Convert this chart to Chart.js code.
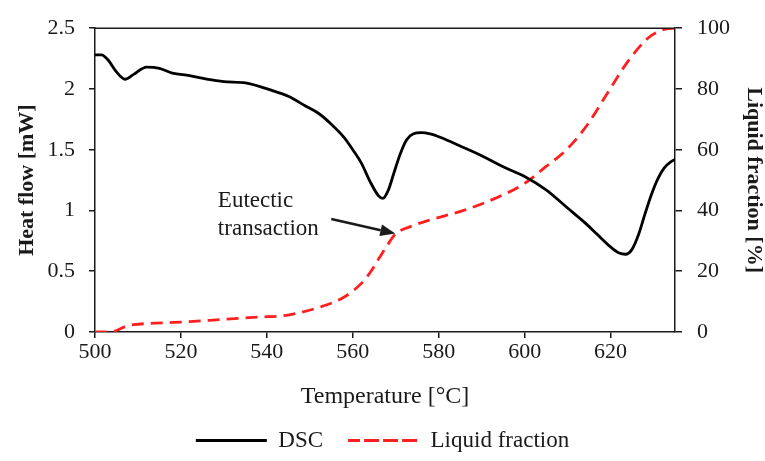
<!DOCTYPE html>
<html>
<head>
<meta charset="utf-8">
<script src="https://cdn.jsdelivr.net/npm/chart.js@4.4.1/dist/chart.umd.min.js"></script>
<style>
  html, body { margin: 0; padding: 0; background: #fff; }
  #wrap { width: 765px; height: 461px; }
</style>
</head>
<body>
<div id="wrap"><canvas id="chart"></canvas></div>
<script>
// temperature (°C) and DSC heat flow (mW)
var dscTemp = [500, 501.5, 503, 505, 507, 509, 512, 515, 518, 522, 526, 530, 535, 541, 545, 549, 552, 555, 558, 560, 562, 564, 566, 567, 568.3, 569.5, 571, 572.5, 574, 576, 578, 580.5, 585, 590, 595, 600, 605, 610, 614, 617, 620, 622, 623.5, 625, 626.5, 628, 629.5, 631, 632.5, 634, 635];
var dscFlow = [2.28, 2.28, 2.24, 2.14, 2.08, 2.12, 2.18, 2.17, 2.13, 2.11, 2.08, 2.06, 2.05, 1.99, 1.94, 1.86, 1.80, 1.71, 1.60, 1.50, 1.39, 1.24, 1.12, 1.10, 1.17, 1.30, 1.46, 1.58, 1.63, 1.64, 1.63, 1.60, 1.53, 1.45, 1.36, 1.28, 1.17, 1.02, 0.90, 0.80, 0.70, 0.65, 0.64, 0.68, 0.80, 0.97, 1.13, 1.26, 1.35, 1.40, 1.42];

// temperature (°C) and liquid fraction (%)
var lfTemp = [500, 503, 505, 507, 509, 514, 522, 530, 538, 544, 548, 553, 558, 562, 564, 566, 568, 570, 574, 578, 586, 593, 600, 605, 609, 612, 615, 619, 624, 628.6, 631, 633, 635];
var lfValue = [0, 0, 0.5, 1.8, 2.4, 2.9, 3.4, 4.2, 4.9, 5.4, 6.5, 8.5, 11.5, 16, 19.5, 24, 28.5, 32.3, 35, 36.9, 40.1, 43.9, 48.9, 54.5, 59, 63.5, 69, 78, 89, 96.6, 98.8, 99.8, 100];

var seriesNames = ["DSC", "Liquid fraction"];

// annotation: text anchor and arrow, in data units (°C, mW)
var noteLines = ["Eutectic", "transaction"];
var noteAt = { x: 528.6, y: [1.03, 0.80] };
var arrowFrom = { x: 555.0, y: 0.93 };
var arrowTo = { x: 569.9, y: 0.81 };

function pairs(xs, ys) {
  return xs.map(function (x, i) { return { x: x, y: ys[i] }; });
}

var serif = "'Liberation Serif', 'Times New Roman', serif";
var ink = "#1a1a1a";

var annotate = {
  id: "annotate",
  afterDatasetsDraw: function (chart) {
    var ctx = chart.ctx, a = chart.chartArea;
    var xs = chart.scales.x, ys = chart.scales.y;
    ctx.save();
    // top frame line
    ctx.strokeStyle = ink;
    ctx.lineWidth = 1.5;
    ctx.beginPath();
    ctx.moveTo(a.left, a.top);
    ctx.lineTo(a.right, a.top);
    ctx.stroke();

    ctx.fillStyle = ink;
    ctx.font = "23px " + serif;
    ctx.textAlign = "left";
    ctx.textBaseline = "alphabetic";
    noteLines.forEach(function (t, i) {
      ctx.fillText(t, xs.getPixelForValue(noteAt.x), ys.getPixelForValue(noteAt.y[i]));
    });

    var x0 = xs.getPixelForValue(arrowFrom.x), y0 = ys.getPixelForValue(arrowFrom.y);
    var x1 = xs.getPixelForValue(arrowTo.x), y1 = ys.getPixelForValue(arrowTo.y);
    var ang = Math.atan2(y1 - y0, x1 - x0), head = 15, half = 6;
    var bx = x1 - head * Math.cos(ang), by = y1 - head * Math.sin(ang);
    ctx.strokeStyle = ink;
    ctx.lineWidth = 2.5;
    ctx.beginPath();
    ctx.moveTo(x0, y0);
    ctx.lineTo(bx, by);
    ctx.stroke();
    ctx.beginPath();
    ctx.moveTo(x1, y1);
    ctx.lineTo(bx + half * Math.sin(ang), by - half * Math.cos(ang));
    ctx.lineTo(bx - half * Math.sin(ang), by + half * Math.cos(ang));
    ctx.closePath();
    ctx.fill();
    ctx.restore();
  }
};

Chart.defaults.font.family = serif;
Chart.defaults.color = ink;

function plain(v) { return String(Number(v.toFixed(2))); }

new Chart(document.getElementById("chart"), {
  type: "line",
  data: {
    datasets: [
      {
        label: seriesNames[0],
        data: pairs(dscTemp, dscFlow),
        yAxisID: "y",
        borderColor: "#000",
        backgroundColor: "rgba(0,0,0,0)",
        borderWidth: 2.8,
        pointRadius: 0,
        cubicInterpolationMode: "monotone"
      },
      {
        label: seriesNames[1],
        data: pairs(lfTemp, lfValue),
        yAxisID: "y1",
        borderColor: "#ff1f1f",
        backgroundColor: "rgba(0,0,0,0)",
        borderWidth: 2.8,
        borderDash: [12, 7],
        pointRadius: 0,
        cubicInterpolationMode: "monotone"
      }
    ]
  },
  options: {
    responsive: true,
    maintainAspectRatio: false,
    animation: false,
    layout: { padding: { top: 23, left: 0, right: 0, bottom: 0 } },
    plugins: {
      tooltip: { enabled: false },
      legend: {
        position: "bottom",
        maxHeight: 57,
        labels: {
          boxWidth: 71,
          boxHeight: 0,
          padding: 25,
          color: ink,
          font: { size: 23 }
        }
      }
    },
    scales: {
      x: {
        type: "linear",
        min: 500,
        max: 635,
        afterFit: function (s) { s.height = 72; },
        border: { display: true, color: ink, width: 1.5 },
        grid: { drawOnChartArea: false, drawTicks: true, tickLength: 6, color: ink, lineWidth: 1.5 },
        ticks: { stepSize: 20, includeBounds: false, padding: 1, font: { size: 22 }, color: ink },
        title: { display: true, text: "Temperature [°C]", font: { size: 24, lineHeight: 1 }, color: ink, padding: { top: 0, bottom: -5 } }
      },
      y: {
        position: "left",
        min: 0,
        max: 2.5,
        afterFit: function (s) { s.width = 95; },
        border: { display: true, color: ink, width: 1.5 },
        grid: { drawOnChartArea: false, drawTicks: true, tickLength: 6, color: ink, lineWidth: 1.5 },
        ticks: { stepSize: 0.5, padding: 14, font: { size: 22 }, color: ink, callback: plain },
        title: { display: true, text: "Heat flow [mW]", font: { size: 22, weight: "bold", lineHeight: 1 }, color: ink, padding: { top: 16, bottom: 0 } }
      },
      y1: {
        position: "right",
        min: 0,
        max: 100,
        afterFit: function (s) { s.width = 90; },
        border: { display: true, color: ink, width: 1.5 },
        grid: { drawOnChartArea: false, drawTicks: true, tickLength: 7, color: ink, lineWidth: 1.5 },
        ticks: { stepSize: 20, padding: 15, font: { size: 22 }, color: ink },
        title: { display: true, text: "Liquid fraction [%]", font: { size: 22, weight: "bold", lineHeight: 1 }, color: ink, padding: { top: 0, bottom: 0 } }
      }
    }
  },
  plugins: [annotate]
});
</script>
</body>
</html>
